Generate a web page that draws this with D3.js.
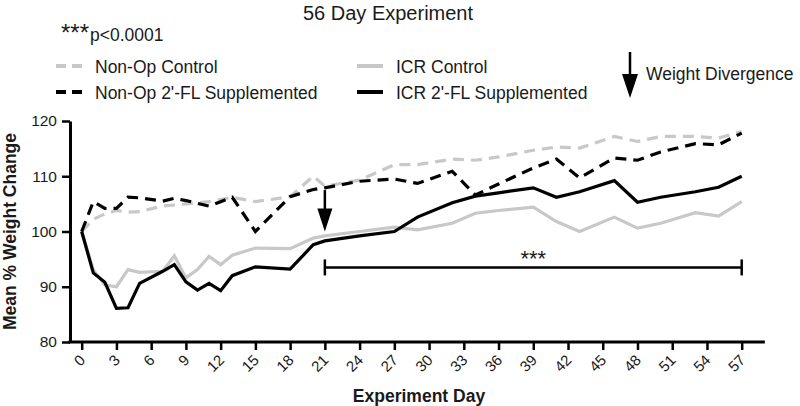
<!DOCTYPE html>
<html>
<head>
<meta charset="utf-8">
<script src="https://cdn.jsdelivr.net/npm/d3@7"></script>
<style>
  body { margin: 0; background: #fff; }
  text { font-family: "Liberation Sans", Arial, sans-serif; fill: #1a1a1a; }
</style>
</head>
<body>
<script>
const days         = [0, 1, 2, 3, 4, 5, 7, 8, 9, 10, 11, 12, 13, 15, 18, 20, 21, 24, 27, 29, 32, 34, 36, 39, 41, 43, 46, 48, 50, 53, 55, 57];
const nonOpControl = [100, 102.2, 103.2, 103.8, 103.5, 103.6, 104.6, 104.8, 105.0, 105.2, 105.4, 105.8, 106.2, 105.4, 106.3, 110.0, 108.2, 109.3, 112.1, 112.1, 113.1, 112.9, 113.5, 114.7, 115.3, 115.1, 117.2, 116.3, 117.2, 117.2, 116.9, 118.1];
const nonOpFL      = [100, 105.4, 104.2, 104.2, 106.2, 106.1, 105.5, 106.0, 105.6, 105.1, 104.6, 105.4, 106.2, 100.0, 106.3, 107.6, 107.9, 109.1, 109.5, 108.7, 110.9, 106.6, 108.6, 111.5, 113.1, 109.7, 113.3, 112.9, 114.4, 115.9, 115.7, 117.8];
const icrControl   = [100, 93.1, 90.3, 90.0, 93.1, 92.6, 92.8, 95.6, 91.6, 93.1, 95.5, 94.0, 95.7, 97.0, 96.9, 98.8, 99.2, 100.0, 100.8, 100.3, 101.5, 103.3, 103.8, 104.4, 101.8, 100.0, 102.6, 100.6, 101.5, 103.4, 102.8, 105.4];
const icrFL        = [100, 92.5, 90.8, 86.1, 86.2, 90.6, 92.8, 94.0, 90.9, 89.4, 90.6, 89.3, 92.0, 93.6, 93.2, 97.6, 98.3, 99.2, 100.0, 102.6, 105.2, 106.4, 107.0, 107.9, 106.2, 107.2, 109.2, 105.3, 106.2, 107.2, 108.0, 110.0];

const xTickLabels = [0, 3, 6, 9, 12, 15, 18, 21, 24, 27, 30, 33, 36, 39, 42, 45, 48, 51, 54, 57];
const yTickLabels = [80, 90, 100, 110, 120];

// significance bracket / divergence marker (days, % value)
const divergenceDay = 21;
const bracketRange = [21, 57];
const bracketLevel = 93.5;

const GRAY = "#c8c8c8";
const series = [
  { name: "Non-Op Control",            values: nonOpControl, color: GRAY,   dash: "11,7" },
  { name: "ICR Control",               values: icrControl,   color: GRAY,   dash: null },
  { name: "Non-Op 2'-FL Supplemented", values: nonOpFL,      color: "#000", dash: "11,7" },
  { name: "ICR 2'-FL Supplemented",    values: icrFL,        color: "#000", dash: null }
];

const W = 800, H = 406;
const svg = d3.select("body").append("svg").attr("width", W).attr("height", H);

const x = d3.scaleLinear().domain([0, 57]).range([81.7, 741.7]);
const y = d3.scaleLinear().domain([80, 120]).range([342, 121]);
const axisX0 = 70;
const FONT = "Liberation Sans, Arial, sans-serif";

// title
svg.append("text").attr("x", 388).attr("y", 20).attr("text-anchor", "middle")
  .style("font-size", "20px").text("56 Day Experiment");

// p-value note
const note = svg.append("text").attr("x", 61).attr("y", 41);
note.append("tspan").style("font-size", "24px").text("***");
note.append("tspan").attr("dx", 1).style("font-size", "17.5px").text("p<0.0001");

// y axis
const gy = svg.append("g").attr("transform", `translate(${axisX0},0)`)
  .call(d3.axisLeft(y).tickValues(yTickLabels).tickSize(8).tickSizeOuter(0).tickPadding(5));
gy.select(".domain").attr("stroke-width", 3).attr("stroke", "#000");
gy.selectAll(".tick line").attr("stroke-width", 2.5).attr("stroke", "#000");
gy.selectAll(".tick text").style("font-size", "15.5px").style("font-family", FONT).attr("fill", "#1a1a1a");

// x axis
const gx = svg.append("g").attr("transform", `translate(0,${y(80)})`)
  .call(d3.axisBottom(x).tickValues(xTickLabels).tickSize(8));
gx.select(".domain").remove();
gx.append("line").attr("x1", axisX0 - 1.5).attr("x2", x(59)).attr("stroke", "#000").attr("stroke-width", 3);
gx.selectAll(".tick line").attr("stroke-width", 2.5).attr("stroke", "#000");
gx.selectAll(".tick text")
  .style("font-size", "15px").style("font-family", FONT).attr("fill", "#1a1a1a")
  .attr("text-anchor", "end").attr("dy", null).attr("y", 0)
  .attr("transform", "translate(4,19) rotate(-45)");

// axis titles
svg.append("text").attr("x", 419).attr("y", 402).attr("text-anchor", "middle")
  .style("font-size", "17.5px").style("font-weight", "bold").text("Experiment Day");
svg.append("text").attr("transform", `translate(15.5,${y(100)}) rotate(-90)`).attr("text-anchor", "middle")
  .style("font-size", "17.5px").style("font-weight", "bold").text("Mean % Weight Change");

// lines
const line = d3.line().x(d => x(d[0])).y(d => y(d[1]));
series.forEach(s => {
  svg.append("path")
    .datum(days.map((d, i) => [d, s.values[i]]))
    .attr("d", line)
    .attr("fill", "none")
    .attr("stroke", s.color)
    .attr("stroke-width", 3.2)
    .attr("stroke-dasharray", s.dash)
    .attr("stroke-linejoin", "miter");
});

// legend
const legendPos = [[56, 66], [357, 66], [56, 92], [357, 92]];
series.forEach((s, k) => {
  const [lx, ly] = legendPos[k];
  svg.append("line").attr("x1", lx).attr("x2", lx + 26).attr("y1", ly).attr("y2", ly)
    .attr("stroke", s.color).attr("stroke-width", 4).attr("stroke-dasharray", s.dash ? "10,6" : null);
  svg.append("text").attr("x", lx + 39).attr("y", ly + 6.5).style("font-size", "17.5px").text(s.name);
});

// arrow helper
function arrowDown(xp, y1, y2, headLen, headW) {
  svg.append("line").attr("x1", xp).attr("x2", xp).attr("y1", y1).attr("y2", y2 - headLen + 1)
    .attr("stroke", "#000").attr("stroke-width", 2.5);
  svg.append("path")
    .attr("d", `M${xp - headW / 2},${y2 - headLen} L${xp + headW / 2},${y2 - headLen} L${xp},${y2} Z`)
    .attr("fill", "#000");
}

// "Weight Divergence" legend arrow
arrowDown(630, 52, 98, 24, 16);
svg.append("text").attr("x", 646).attr("y", 80).style("font-size", "17.5px").text("Weight Divergence");

// divergence arrow in plot
arrowDown(x(divergenceDay), y(107.5), y(100), 23, 15);

// significance bracket
const by = y(bracketLevel);
svg.append("line").attr("x1", x(bracketRange[0])).attr("x2", x(bracketRange[1])).attr("y1", by).attr("y2", by)
  .attr("stroke", "#000").attr("stroke-width", 2.5);
bracketRange.forEach(d => {
  svg.append("line").attr("x1", x(d)).attr("x2", x(d)).attr("y1", by - 8).attr("y2", by + 8)
    .attr("stroke", "#000").attr("stroke-width", 2.5);
});
svg.append("text").attr("x", x(39)).attr("y", by - 1).attr("text-anchor", "middle")
  .style("font-size", "22px").text("***");
</script>
</body>
</html>
